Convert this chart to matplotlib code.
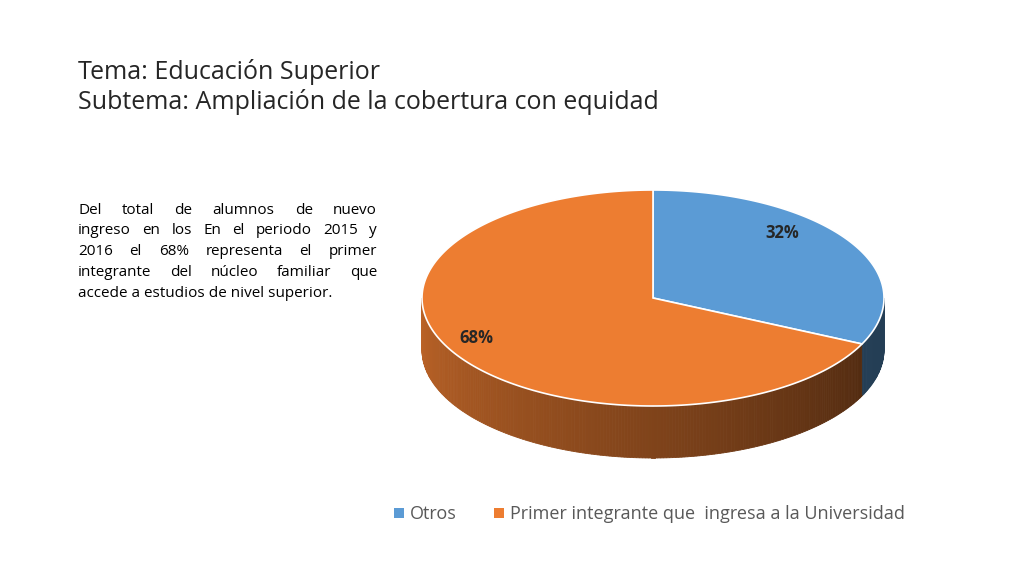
import numpy as np
import matplotlib
matplotlib.use("Agg")
import matplotlib.pyplot as plt
from matplotlib.patches import Polygon, Rectangle
import matplotlib.colors as mc

categories = ["Otros", "Primer integrante que  ingresa a la Universidad"]
shares = [32, 68]
colors = ["#5b9bd5", "#ed7d31"]
title_lines = ["Tema: Educación Superior", "Subtema: Ampliación de la cobertura con equidad"]
para_lines = ["Del total de alumnos de nuevo",
              "ingreso en los En el periodo 2015 y",
              "2016 el 68% representa el primer",
              "integrante del núcleo familiar que",
              "accede a estudios de nivel superior."]

fig = plt.figure(figsize=(10.24, 5.76), dpi=100)
ax = fig.add_axes([0, 0, 1, 1])
ax.set_xlim(0, 1024)
ax.set_ylim(576, 0)
ax.axis("off")

font = "Open Sans"
ax.text(78, 72, title_lines[0], fontsize=18, family=font, color="#262626", va="center")
ax.text(78, 102, title_lines[1], fontsize=18, family=font, color="#262626", va="center")

# justified paragraph
fig.canvas.draw()
r = fig.canvas.get_renderer()
x0, x1 = 78, 377
for i, line in enumerate(para_lines):
    y = 210 + i * 20.8
    if i == len(para_lines) - 1:
        ax.text(x0, y, line, fontsize=11, family=font, va="center")
        continue
    words = line.split()
    ts = [ax.text(0, y, w, fontsize=11, family=font, va="center") for w in words]
    ws = [t.get_window_extent(r).width for t in ts]
    gap = (x1 - x0 - sum(ws)) / (len(words) - 1)
    x = x0
    for t, w in zip(ts, ws):
        t.set_x(x)
        x += w + gap

# 3D-ish pie
cx, cy, rx, ry, depth = 653, 298, 231, 108, 52
bounds = np.cumsum([0] + shares) / 100 * 360
start = 90
ang = [start - b for b in bounds]  # clockwise from top

def pt(t):
    t = np.radians(t)
    return cx + rx * np.cos(t), cy - ry * np.sin(t)

# side wall (front half: 180..360 deg)
cut = ang[1] % 360
ts = np.linspace(180, 360, 240)
for a, b in zip(ts[:-1], ts[1:]):
    m = (a + b) / 2
    if m < cut:
        f = 0.8 - 0.45 * (m - 180) / (cut - 180)
        c = np.array(mc.to_rgb(colors[1])) * f
    else:
        c = np.array(mc.to_rgb(colors[0])) * 0.4
    (xa, ya), (xb, yb) = pt(a), pt(b)
    ax.add_patch(Polygon([(xa, ya), (xb, yb), (xb, yb + depth), (xa, ya + depth)],
                         closed=True, fc=c, ec=c, lw=0.6))

# top faces
for i in range(len(shares)):
    t = np.linspace(ang[i], ang[i + 1], 200)
    pts = [(cx, cy)] + [pt(v) for v in t]
    ax.add_patch(Polygon(pts, closed=True, fc=colors[i], ec="white", lw=1.2))

ax.text(782, 233, "32%", fontsize=12, family=font, weight="bold", ha="center", va="center", color="#262626")
ax.text(476, 338, "68%", fontsize=12, family=font, weight="bold", ha="center", va="center", color="#262626")

# legend
lx = [394, 494]
for x, c, lab in zip(lx, colors, categories):
    ax.add_patch(Rectangle((x, 508), 10, 10, fc=c, ec="none"))
    ax.text(x + 16, 514, lab, fontsize=13, family=font, color="#595959", va="center")

fig.savefig("out.png", dpi=100)
